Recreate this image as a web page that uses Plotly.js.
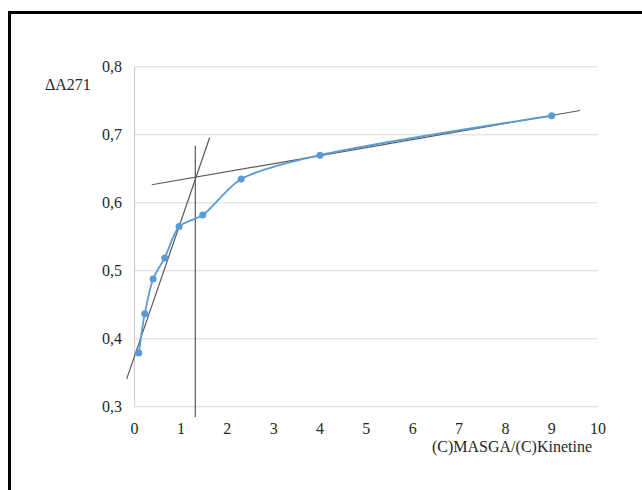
<!DOCTYPE html>
<html>
<head>
<meta charset="utf-8">
<script src="https://cdn.plot.ly/plotly-3.0.1.min.js"></script>
<style>
  html, body { margin: 0; padding: 0; background: #fff; }
  #wrap { position: relative; width: 642px; height: 490px; overflow: hidden; }
  #chart { width: 642px; height: 490px; }
  #frame { position: absolute; left: 8px; top: 11px; width: 700px; height: 600px;
           border-left: 3px solid #000; border-top: 3px solid #000; pointer-events: none; }
</style>
</head>
<body>
<div id="wrap">
  <div id="chart"></div>
  <div id="frame"></div>
</div>
<script>
// Measured data (ratio vs ΔA271)
const ratio   = [0.09, 0.22, 0.40, 0.65, 0.96, 1.47, 2.30, 4.00, 9.00];
const deltaA  = [0.379, 0.437, 0.488, 0.519, 0.565, 0.582, 0.635, 0.670, 0.728];

// Tangent / construction lines
const steepX = [-0.17, 1.62];
const steepY = [0.341, 0.696];
const flatX  = [0.37, 9.61];
const flatY  = [0.6265, 0.7357];
const vertX  = [1.31, 1.31];
const vertY  = [0.285, 0.684];

// Axis ticks
const xTicks = [0, 1, 2, 3, 4, 5, 6, 7, 8, 9, 10];
const yTicks = [0.3, 0.4, 0.5, 0.6, 0.7, 0.8];

const yLabel = 'ΔA271';
const xLabel = '(C)MASGA/(C)Kinetine';

const lineGray = '#595959';
const gridGray = '#d9d9d9';
const textCol  = '#262626';
const fontFam  = '"Liberation Serif", "Times New Roman", serif';
const fs = 16;

const traces = [
  { x: steepX, y: steepY, mode: 'lines', line: { color: lineGray, width: 1.2 }, hoverinfo: 'skip' },
  { x: flatX,  y: flatY,  mode: 'lines', line: { color: lineGray, width: 1.2 }, hoverinfo: 'skip' },
  { x: vertX,  y: vertY,  mode: 'lines', line: { color: lineGray, width: 1.2 }, hoverinfo: 'skip' },
  { x: ratio, y: deltaA, mode: 'lines+markers',
    line: { color: '#5B9BD5', width: 1.8, shape: 'spline', smoothing: 0.8 },
    marker: { color: '#5B9BD5', size: 7 } }
];

const shapes = yTicks.map(v => ({
  type: 'line', xref: 'x', yref: 'y', x0: xTicks[0], x1: xTicks[xTicks.length - 1], y0: v, y1: v,
  line: { color: gridGray, width: 1 }, layer: 'below'
}));
shapes.push({
  type: 'line', xref: 'x', yref: 'y', x0: xTicks[0], x1: xTicks[0],
  y0: yTicks[0], y1: yTicks[yTicks.length - 1],
  line: { color: '#c8c8c8', width: 1 }, layer: 'below'
});

const layout = {
  width: 642, height: 490,
  margin: { l: 123, r: 30, t: 60, b: 72.8 },
  paper_bgcolor: '#ffffff', plot_bgcolor: '#ffffff',
  showlegend: false,
  separators: ',.',
  font: { family: fontFam, size: fs, color: textCol },
  xaxis: {
    range: [-0.25, 10.3], tickvals: xTicks, ticktext: xTicks.map(String),
    showgrid: false, zeroline: false, showline: false, ticks: '',
    tickfont: { family: fontFam, size: fs, color: textCol }
  },
  yaxis: {
    range: [0.285, 0.81], tickvals: yTicks, tickformat: '.1f',
    showgrid: false, zeroline: false, showline: false, ticks: '',
    tickfont: { family: fontFam, size: fs, color: textCol }
  },
  shapes: shapes,
  annotations: [
    { text: yLabel, xref: 'paper', yref: 'paper', x: -0.061, y: 0.93,
      xanchor: 'right', yanchor: 'middle', showarrow: false,
      font: { family: fontFam, size: fs, color: textCol } },
    { text: xLabel, xref: 'paper', yref: 'paper', x: 0.963, y: -0.083,
      xanchor: 'right', yanchor: 'middle', showarrow: false,
      font: { family: fontFam, size: fs, color: textCol } }
  ]
};

Plotly.newPlot('chart', traces, layout, { displayModeBar: false, staticPlot: true });
</script>
</body>
</html>
